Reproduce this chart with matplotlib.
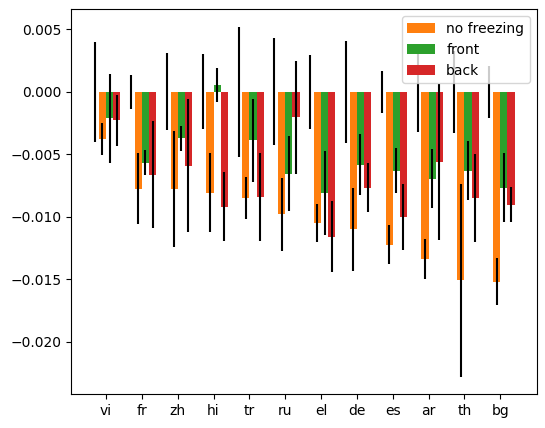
import numpy as np
import matplotlib
matplotlib.use("Agg")
import matplotlib.pyplot as plt

langs = ['vi', 'fr', 'zh', 'hi', 'tr', 'ru', 'el', 'de', 'es', 'ar', 'th', 'bg']
base_vals = [0.0] * 12
base_err = [0.0040, 0.00135, 0.0031, 0.0030, 0.0052, 0.0043, 0.00295, 0.0041, 0.0017, 0.0032, 0.0033, 0.0021]
nofreeze = [-0.0038, -0.00775, -0.00775, -0.0081, -0.0085, -0.0098, -0.0105, -0.0110, -0.01225, -0.0134, -0.0151, -0.0152]
nofreeze_err = [0.00127, 0.00287, 0.00464, 0.00316, 0.00167, 0.00291, 0.00155, 0.00332, 0.00155, 0.00158, 0.00769, 0.00189]
front = [-0.00214, -0.00567, -0.00374, 0.00056, -0.0039, -0.00655, -0.00807, -0.00583, -0.00631, -0.00695, -0.00631, -0.00767]
front_err = [0.00356, 0.00099, 0.00103, 0.00135, 0.00336, 0.0030, 0.00336, 0.00243, 0.00183, 0.00235, 0.00233, 0.00275]
back = [-0.0023, -0.00663, -0.00591, -0.0092, -0.0084, -0.00206, -0.0116, -0.00767, -0.0100, -0.00559, -0.00848, -0.00904]
back_err = [0.00207, 0.00428, 0.00532, 0.00275, 0.00352, 0.00456, 0.00283, 0.00197, 0.00265, 0.00625, 0.00352, 0.00139]

fig = plt.figure(figsize=(5.45, 4.28), dpi=100)
ax = fig.add_axes([0.1308, 0.0794, 0.9848 - 0.1308, 0.9783 - 0.0794])

x = np.arange(len(langs))
w = 0.2
ax.bar(x - 0.3, base_vals, w, yerr=base_err, color='C0')
ax.bar(x - 0.1, nofreeze, w, yerr=nofreeze_err, color='C1', label='no freezing')
ax.bar(x + 0.1, front, w, yerr=front_err, color='C2', label='front')
ax.bar(x + 0.3, back, w, yerr=back_err, color='C3', label='back')

ax.set_xticks(x)
ax.set_xticklabels(langs)
ax.set_xlim(-0.97, 12.02)
ax.legend(loc='upper right')

fig.savefig('out.png', dpi=100)
